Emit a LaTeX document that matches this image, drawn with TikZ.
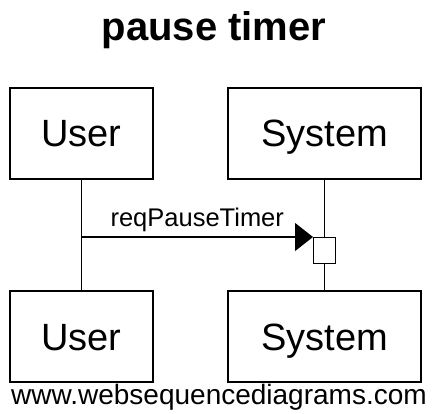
\documentclass[tikz,border=0pt]{standalone}
\usepackage{fontspec}
\setmainfont{Liberation Sans}
\usetikzlibrary{arrows.meta}
\newcommand*{\actor}[1]{\fontsize{38}{40}\selectfont #1}

\begin{document}
\begin{tikzpicture}[x=1pt,y=-1pt,
  box/.style={draw,line width=1.2pt,minimum height=91pt,inner sep=0pt,
    text height=27pt,text depth=0pt},
  life/.style={line width=1.2pt}]
\useasboundingbox (0,0) rectangle (436,414);

\node (title) at (214,30) {\fontsize{40}{42}\selectfont\bfseries pause timer};

\node[box,minimum width=143pt] (userTop) at (81.5,133.5) {\actor{User}};
\node[box,minimum width=193pt] (sysTop) at (324.5,133.5) {\actor{System}};
\node[box,minimum width=143pt] (userBot) at (81.5,336.5) {\actor{User}};
\node[box,minimum width=193pt] (sysBot) at (324.5,336.5) {\actor{System}};

\draw[life] (userTop.south) -- (userBot.north);
\draw[life] (sysTop.south) -- (sysBot.north);

\node[draw,fill=white,line width=1.2pt,minimum width=22pt,minimum height=26pt,
  inner sep=0pt,anchor=north west] (act) at (313,237) {};

\draw[life,-{Triangle[length=18pt,width=28pt]}] (userTop.south |- act.north west) -- (act.north west)
  node[midway,above=1pt] (msg) {\fontsize{25.5}{27}\selectfont reqPauseTimer};

\node (footer) at (219,397) {\fontsize{28}{30}\selectfont www.websequencediagrams.com};
\end{tikzpicture}
\end{document}
